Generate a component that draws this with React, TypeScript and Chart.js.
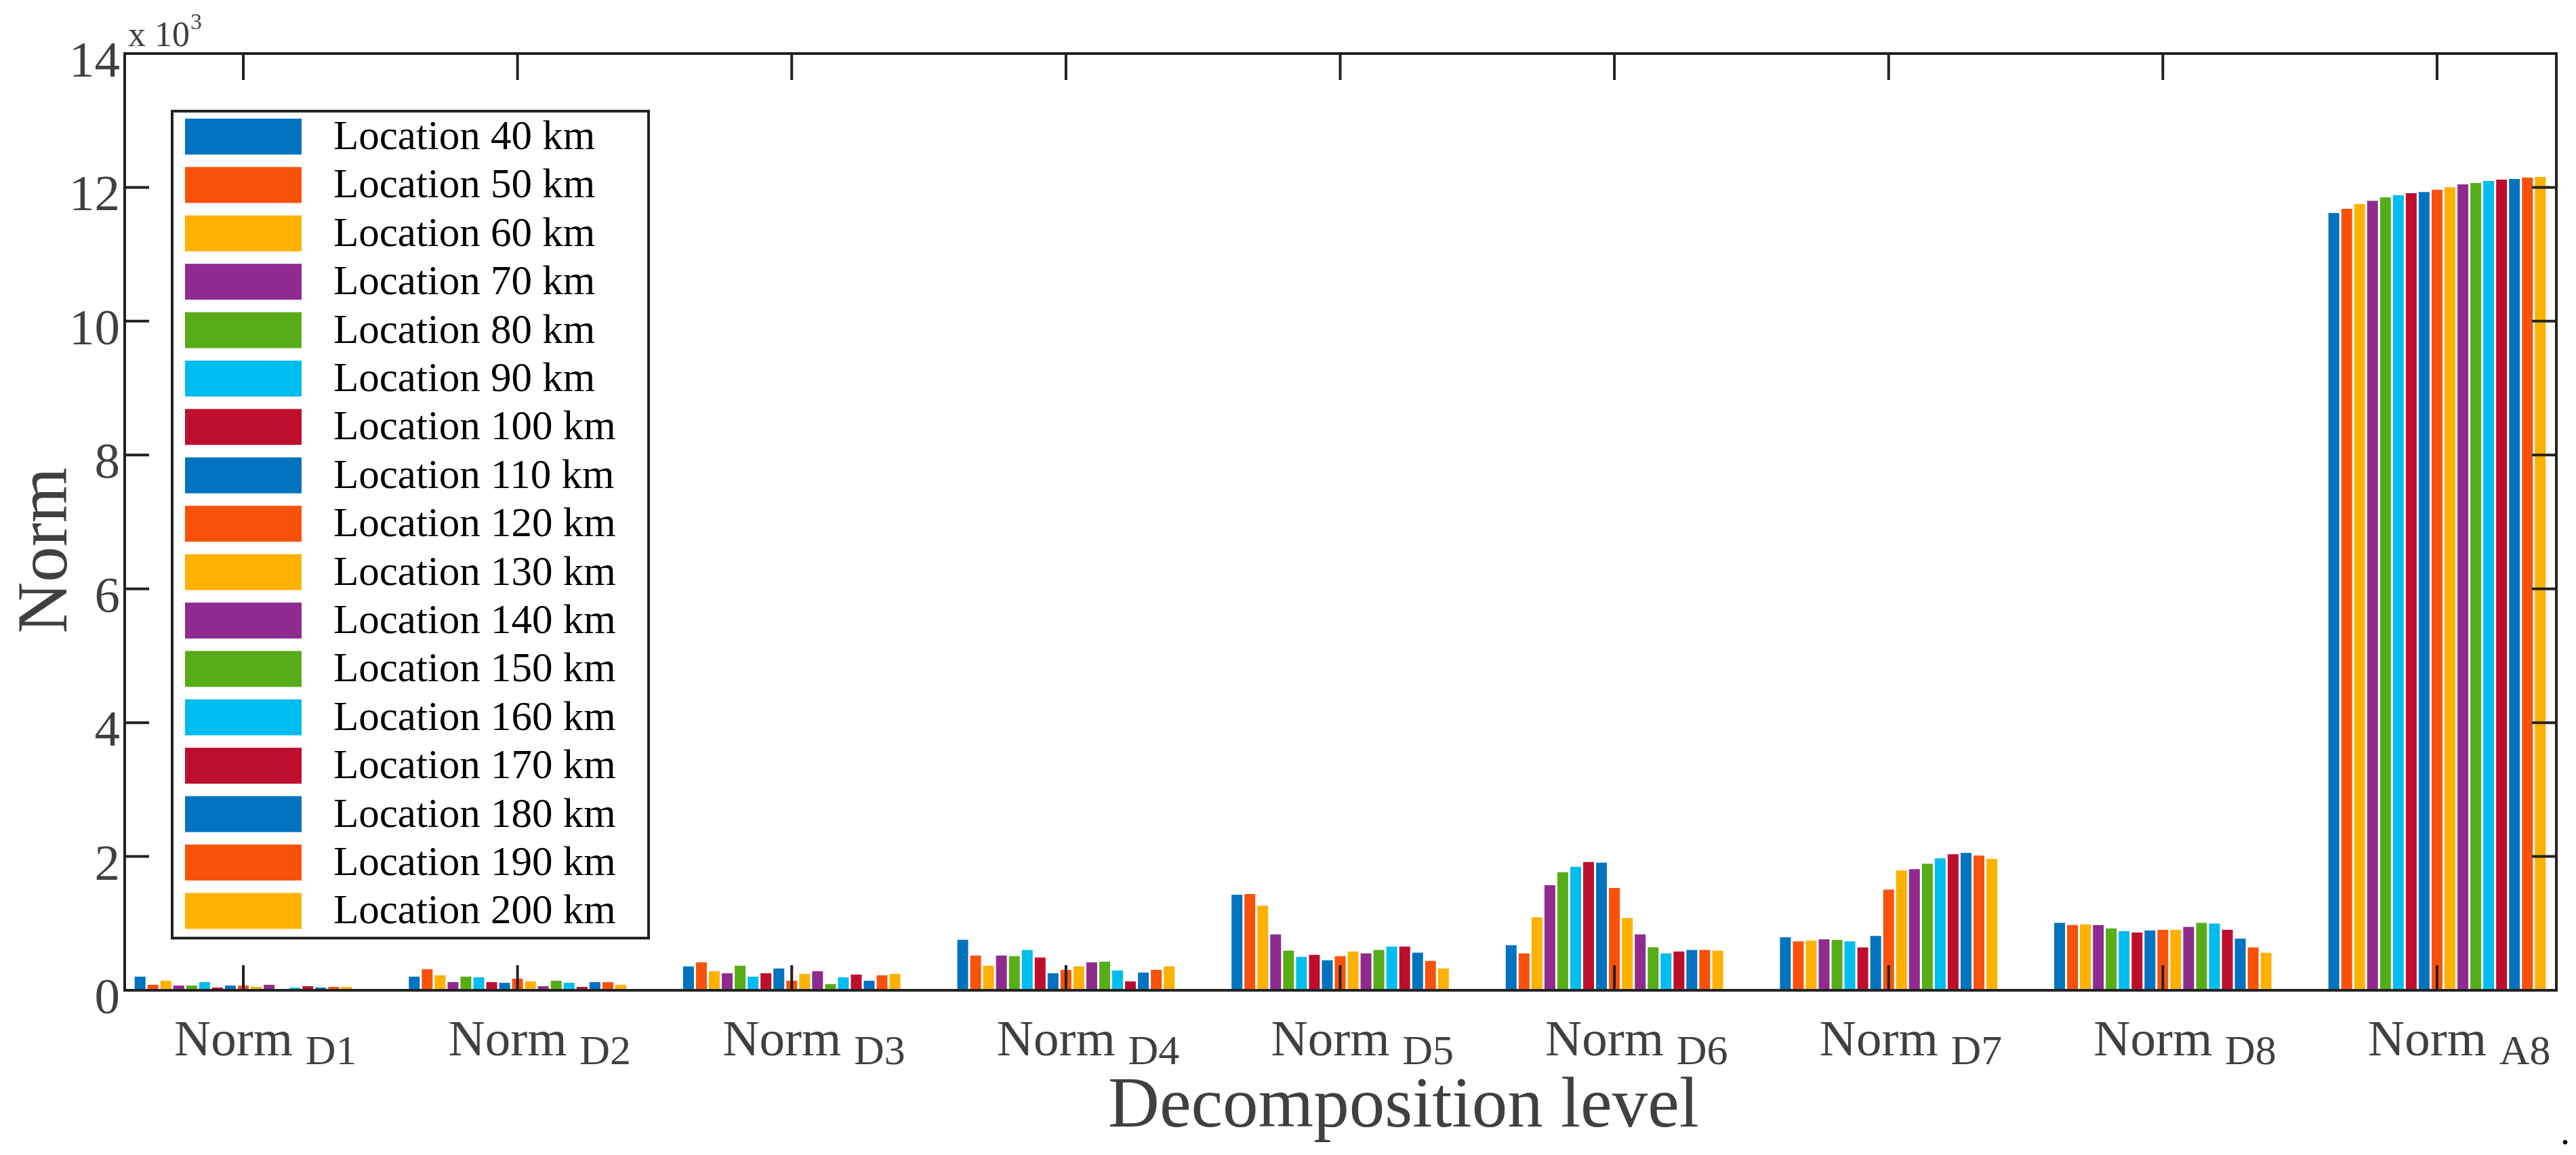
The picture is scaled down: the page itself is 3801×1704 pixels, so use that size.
import React, { useEffect, useRef } from "react";
import { Chart, registerables } from "chart.js";

Chart.register(...registerables);

// ---------- data ----------
const categoryBase = "Norm";
const categorySubscripts = ["D1", "D2", "D3", "D4", "D5", "D6", "D7", "D8", "A8"];

const locationLabels = [
  "Location 40 km", "Location 50 km", "Location 60 km", "Location 70 km",
  "Location 80 km", "Location 90 km", "Location 100 km", "Location 110 km",
  "Location 120 km", "Location 130 km", "Location 140 km", "Location 150 km",
  "Location 160 km", "Location 170 km", "Location 180 km", "Location 190 km",
  "Location 200 km",
];

// values per location, one per decomposition level (D1..D8, A8)
const loc40 = [204, 204, 357, 755, 1428, 673, 793, 1007, 11618];
const loc50 = [82, 316, 418, 520, 1438, 551, 732, 976, 11679];
const loc60 = [143, 224, 286, 367, 1265, 1091, 742, 986, 11750];
const loc70 = [71, 122, 255, 520, 836, 1571, 763, 976, 11800];
const loc80 = [71, 204, 367, 510, 592, 1765, 753, 925, 11851];
const loc90 = [122, 194, 204, 602, 500, 1846, 732, 885, 11882];
const loc100 = [41, 122, 255, 490, 530, 1918, 641, 864, 11912];
const loc110 = [71, 112, 326, 255, 449, 1907, 814, 895, 11932];
const loc120 = [71, 173, 143, 306, 510, 1530, 1505, 905, 11963];
const loc130 = [51, 133, 245, 357, 581, 1081, 1790, 905, 12003];
const loc140 = [82, 61, 286, 418, 551, 836, 1810, 946, 12044];
const loc150 = [10, 143, 92, 428, 602, 643, 1892, 1007, 12064];
const loc160 = [41, 112, 194, 296, 653, 551, 1973, 997, 12095];
const loc170 = [61, 51, 235, 133, 653, 581, 2034, 905, 12115];
const loc180 = [41, 122, 143, 265, 561, 602, 2054, 773, 12125];
const loc190 = [51, 122, 224, 306, 439, 602, 2014, 641, 12146];
const loc200 = [51, 82, 245, 357, 326, 592, 1963, 559, 12156];

const seriesValues = [
  loc40, loc50, loc60, loc70, loc80, loc90, loc100, loc110, loc120,
  loc130, loc140, loc150, loc160, loc170, loc180, loc190, loc200,
];

const palette = ["#0173BF", "#F8520A", "#FEB100", "#8F2B8F", "#56AD17", "#00BDEF", "#BE0E2E"];
const seriesColors = locationLabels.map((_, i) => palette[i % palette.length]);

const yTickValues = [0, 2000, 4000, 6000, 8000, 10000, 12000, 14000];
const yTickLabels = ["0", "2", "4", "6", "8", "10", "12", "14"];

const xTitle = "Decomposition level";
const yTitle = "Norm";

// ---------- drawing ----------
const W = 3801;
const H = 1704;
const SERIF = '"Liberation Serif", "Times New Roman", serif';

function line(ctx: CanvasRenderingContext2D, x1: number, y1: number, x2: number, y2: number) {
  ctx.beginPath();
  ctx.moveTo(x1, y1);
  ctx.lineTo(x2, y2);
  ctx.stroke();
}

const framePlugin = {
  id: "matlabFrame",
  afterDatasetsDraw(chart: any) {
    const { ctx, chartArea: a, scales } = chart;
    const x = scales.x;
    const y = scales.y;
    ctx.save();

    // axes box
    ctx.strokeStyle = "#222222";
    ctx.lineWidth = 4;
    ctx.strokeRect(a.left, a.top, a.right - a.left, a.bottom - a.top);

    // category ticks (bottom up, top down)
    ctx.lineWidth = 4;
    categorySubscripts.forEach((_, i) => {
      const px = x.getPixelForValue(i);
      line(ctx, px, a.bottom, px, a.bottom - 37);
      line(ctx, px, a.top, px, a.top + 39);
    });
    // y ticks (left and right, inward)
    yTickValues.forEach((v) => {
      const py = y.getPixelForValue(v);
      line(ctx, a.left, py, a.left + 36, py);
      line(ctx, a.right, py, a.right - 36, py);
    });

    // y tick labels
    ctx.fillStyle = "#404040";
    ctx.font = `75px ${SERIF}`;
    ctx.textAlign = "right";
    ctx.textBaseline = "alphabetic";
    yTickValues.forEach((v, i) => {
      ctx.fillText(yTickLabels[i], a.left - 7, y.getPixelForValue(v) + 34);
    });

    // x tick labels with subscripts
    ctx.textAlign = "left";
    categorySubscripts.forEach((sub, i) => {
      const px = x.getPixelForValue(i);
      const left = px - 102;
      ctx.font = `75px ${SERIF}`;
      const base = categoryBase + " ";
      ctx.fillText(categoryBase, left, a.bottom + 96);
      const w = ctx.measureText(base).width;
      ctx.font = `62px ${SERIF}`;
      ctx.fillText(sub, left + w, a.bottom + 109);
    });

    // multiplier "x 10^3"
    ctx.font = `52px ${SERIF}`;
    ctx.fillText("x 10", a.left + 5, a.top - 11);
    const mw = ctx.measureText("x 10").width;
    ctx.font = `34px ${SERIF}`;
    ctx.fillText("3", a.left + 5 + mw + 1, a.top - 36);

    // axis titles
    ctx.font = `105px ${SERIF}`;
    ctx.textAlign = "center";
    ctx.fillText(xTitle, 2071, 1662);
    ctx.save();
    ctx.translate(98, 812);
    ctx.rotate(-Math.PI / 2);
    ctx.fillText(yTitle, 0, 0);
    ctx.restore();

    // legend
    const lx = 254, ly = 164, lw = 703, lh = 1220;
    ctx.fillStyle = "#ffffff";
    ctx.fillRect(lx, ly, lw, lh);
    ctx.strokeStyle = "#222222";
    ctx.lineWidth = 4;
    ctx.strokeRect(lx, ly, lw, lh);
    ctx.font = `61px ${SERIF}`;
    ctx.textAlign = "left";
    chart.data.datasets.forEach((ds: any, i: number) => {
      const sy = 175 + i * 71.4;
      ctx.fillStyle = ds.backgroundColor;
      ctx.fillRect(273, sy, 172, 53);
      ctx.fillStyle = "#000000";
      ctx.fillText(ds.label, 492, sy + 45);
    });

    // stray period at bottom right
    ctx.fillStyle = "#000000";
    ctx.font = `56px ${SERIF}`;
    ctx.fillText(".", 3778, 1688);

    ctx.restore();
  },
};

export default function App() {
  const canvasRef = useRef<HTMLCanvasElement | null>(null);

  useEffect(() => {
    const canvas = canvasRef.current;
    if (!canvas) return;
    const datasets = seriesValues.map((vals, d) => ({
      label: locationLabels[d],
      data: vals.map((v, i) => ({ x: i, y: v })),
      backgroundColor: seriesColors[d],
      borderWidth: 0,
      categoryPercentage: 0.8,
      barPercentage: 0.84,
    }));
    const chart = new Chart(canvas, {
      type: "bar",
      data: { datasets } as any,
      options: {
        responsive: false,
        animation: false,
        devicePixelRatio: 1,
        layout: { padding: { left: 184, top: 79, right: 29, bottom: 243 } },
        plugins: { legend: { display: false }, tooltip: { enabled: false } },
        scales: {
          x: {
            type: "linear",
            display: false,
            offset: false,
            min: -0.4325,
            max: 8.435,
            afterBuildTicks: (scale: any) => {
              scale.ticks = categorySubscripts.map((_, i) => ({ value: i }));
            },
          },
          y: { type: "linear", display: false, min: 0, max: 14000 },
        },
      } as any,
      plugins: [framePlugin],
    });
    return () => chart.destroy();
  }, []);

  return (
    <canvas
      ref={canvasRef}
      width={W}
      height={H}
      style={{ position: "absolute", left: 0, top: 0, width: W, height: H, display: "block", background: "#ffffff" }}
    />
  );
}
